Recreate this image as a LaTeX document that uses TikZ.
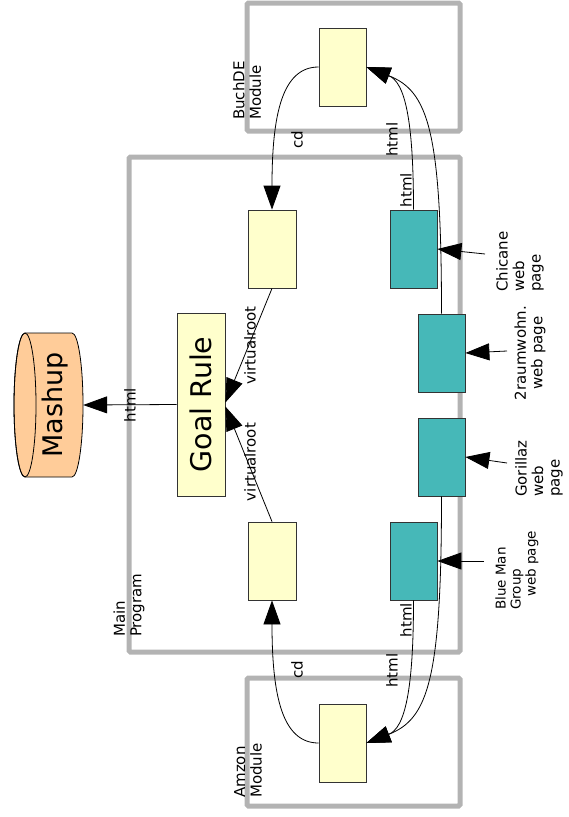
\documentclass[tikz,border=0pt]{standalone}
\usepackage{fontspec}
\setmainfont{DejaVu Sans}
\usetikzlibrary{arrows.meta}
\definecolor{ylw}{HTML}{FFFFCC}
\definecolor{tealbox}{HTML}{46B8B8}
\definecolor{orng}{HTML}{FFCC99}
\definecolor{framegray}{HTML}{B3B3B3}
\begin{document}
\begin{tikzpicture}[x=1pt,y=-1pt,
  container/.style={draw=framegray, line width=5pt, rounded corners=1.5pt},
  ybox/.style={draw=black!80, fill=ylw, line width=0.8pt, minimum width=47pt, minimum height=78pt, inner sep=0pt},
  tbox/.style={draw=black!80, fill=tealbox, line width=0.8pt, minimum width=47pt, minimum height=78pt, inner sep=0pt},
  conn/.style={line width=0.8pt},
  arr/.style={conn, -{Triangle[length=24pt,width=17pt]}},
  lbl/.style={font=\fontsize{15}{16.5}\selectfont, rotate=90, inner sep=0pt},
  slbl/.style={font=\fontsize{13.5}{15}\selectfont, rotate=90, inner sep=0pt}]
\useasboundingbox (0,0) rectangle (568,817);

% containers
\draw[container] (129,157) rectangle (460,652);
\draw[container] (247,3) rectangle (460,131);
\draw[container] (247,678) rectangle (460,806);

% container labels
\node[lbl, anchor=west, align=left] (mainlbl) at (129,637) {Main\\Program};
\node[lbl, anchor=west, align=left] (buchlbl) at (247,120) {BuchDE\\Module};
\node[lbl, anchor=west, align=left] (amzlbl) at (248,798) {Amzon\\Module};

% mashup cylinder
\filldraw[fill=orng, draw=black, line width=0.8pt] (25,333) -- (72,333)
  arc[start angle=-90, end angle=90, x radius=11, y radius=72] -- (25,477)
  arc[start angle=90, end angle=270, x radius=11, y radius=72] -- cycle;
\draw[line width=0.8pt] (25,405) ellipse [x radius=11, y radius=72];
\node[inner sep=0pt, minimum width=55pt, minimum height=144pt] (mashup) at (55.5,405)
  {\rotatebox{90}{\fontsize{27}{30}\selectfont Mashup}};

% boxes
\node[ybox, minimum width=48pt, minimum height=183pt] (goal) at (201,404.5)
  {\rotatebox{90}{\fontsize{28.5}{30}\selectfont Goal Rule}};
\node[ybox] (buch) at (342.5,67) {};
\node[ybox] (amz) at (342.5,743) {};
\node[ybox, minimum width=48pt] (y1) at (272,249) {};
\node[ybox, minimum width=48pt] (y2) at (272,561) {};
\node[tbox] (chic) at (413.5,249) {};
\node[tbox] (raum) at (441.5,353) {};
\node[tbox] (gor) at (441.5,457) {};
\node[tbox] (blue) at (413.5,561) {};

% connectors
\draw[arr] (goal.west) -- (mashup.east);
\draw[arr] (buch.west) .. controls (282,67) and (272,115) .. (y1.north);
\draw[arr] (amz.west) .. controls (282,743) and (272,695) .. (y2.south);
\draw[arr] (y1.south) -- ([yshift=2pt]goal.east);
\draw[arr] (y2.north) -- ([yshift=-2pt]goal.east);
\draw[arr] (chic.north) .. controls (413.5,120) and (405,82) .. (buch.east);
\draw[arr] (raum.north) .. controls (441.5,130) and (428,91) .. (buch.east);
\draw[arr] (blue.south) .. controls (413.5,690) and (405,728) .. (amz.east);
\draw[arr] (gor.south) .. controls (441.5,680) and (428,719) .. (amz.east);

\coordinate (pchic) at (485,254);
\coordinate (praum) at (507,351);
\coordinate (pgor) at (507,463);
\coordinate (pblue) at (484,561);
\draw[arr] (pchic) -- (chic.east);
\draw[arr] (praum) -- (raum.east);
\draw[arr] (pgor) -- (gor.east);
\draw[arr] (pblue) -- (blue.east);

% edge labels
\node[lbl] (lhtml0) at (130,405) {html};
\node[lbl] (lcd1) at (297,140) {cd};
\node[lbl] (lcd2) at (297,670) {cd};
\node[lbl] (lvr1) at (250,345.5) {virtualroot};
\node[lbl] (lvr2) at (250,462) {virtualroot};
\node[lbl] (lhtml1) at (406,190) {html};
\node[lbl] (lhtml2) at (392,139.5) {html};
\node[lbl] (lhtml3) at (406,620) {html};
\node[lbl] (lhtml4) at (392,670.5) {html};

% web page labels
\node[lbl, anchor=west, align=left] (lchic) at (520,292) {Chicane\\web\\page};
\node[lbl, align=center] (lraum) at (530,353) {2raumwohn.\\web page};
\node[lbl, anchor=west, align=left] (lgor) at (539,497) {Gorillaz\\web\\page};
\node[slbl, anchor=west, align=left] (lblue) at (517,610) {Blue Man\\Group\\\hspace*{13pt}web page};
\end{tikzpicture}
\end{document}
